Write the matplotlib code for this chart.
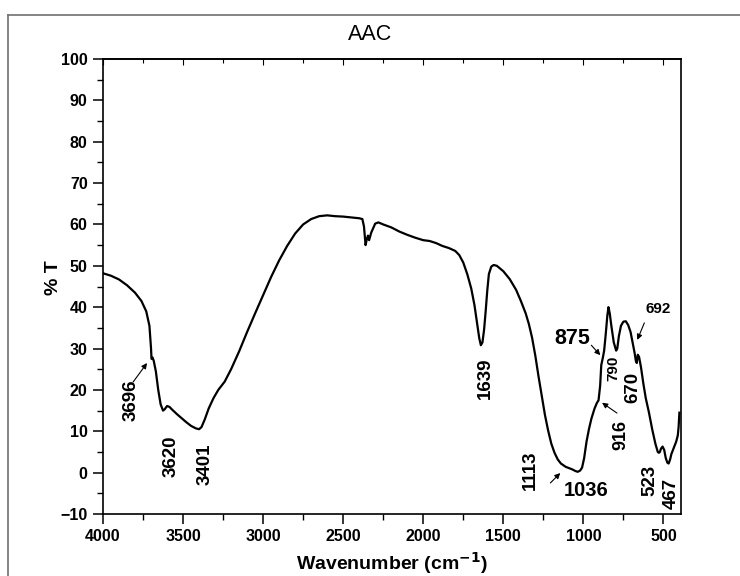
import matplotlib
matplotlib.use("Agg")
import matplotlib.pyplot as plt
from matplotlib.ticker import MultipleLocator
from matplotlib.lines import Line2D

plt.rcParams['font.family'] = ['Liberation Sans', 'DejaVu Sans']

# ---- spectrum data (wavenumber cm-1, %T) ----
wavenumber = [4000, 3950, 3900, 3850, 3800, 3760, 3730, 3710, 3700, 3697, 3690, 3683,
              3670, 3655, 3640, 3625, 3615, 3600, 3585, 3570, 3540, 3510, 3480, 3450,
              3420, 3400, 3385, 3365, 3340, 3310, 3280, 3240, 3200, 3150, 3100, 3050,
              3000, 2950, 2900, 2850, 2800, 2750, 2700, 2650, 2600, 2550, 2500, 2450,
              2400, 2380, 2370, 2360, 2352, 2345, 2338, 2325, 2300, 2280, 2250, 2200,
              2150, 2100, 2050, 2000, 1960, 1920, 1880, 1840, 1800, 1775, 1750, 1725,
              1700, 1680, 1665, 1650, 1640, 1630, 1620, 1610, 1600, 1590, 1575, 1560,
              1540, 1500, 1460, 1420, 1390, 1360, 1340, 1320, 1300, 1280, 1260, 1240, 1220,
              1200, 1180, 1160, 1140, 1110, 1090, 1070, 1050, 1035, 1020, 1008, 995,
              980, 965, 950, 930, 916, 905, 895, 888, 878, 870, 860, 850, 843, 835,
              825, 810, 795, 788, 778, 765, 750, 735, 720, 705, 690, 680, 672, 666,
              660, 652, 640, 625, 610, 590, 570, 550, 535, 528, 522, 515, 505, 495,
              485, 475, 467, 458, 450, 440, 430, 420, 410, 405, 400]
transmittance = [48.2, 47.6, 46.7, 45.3, 43.5, 41.5, 39.0, 35.5, 30.0, 27.5, 27.8, 27.0,
                 24.5, 20.0, 16.5, 15.0, 15.3, 16.1, 15.9, 15.3, 14.2, 13.2, 12.2, 11.3,
                 10.7, 10.5, 11.0, 12.8, 15.5, 18.0, 20.0, 22.0, 25.0, 29.3, 34.0, 38.5,
                 42.9, 47.3, 51.3, 54.8, 57.8, 60.0, 61.3, 62.0, 62.2, 62.0, 61.9, 61.7,
                 61.5, 61.3, 59.5, 55.0, 56.5, 57.3, 56.2, 58.0, 60.2, 60.5, 60.0, 59.3,
                 58.3, 57.5, 56.8, 56.2, 56.0, 55.5, 54.8, 54.3, 53.6, 52.6, 50.8, 48.0,
                 44.5, 40.5, 36.5, 32.5, 30.8, 31.5, 34.5, 39.0, 44.0, 48.0, 49.8, 50.2,
                 50.0, 48.7, 46.8, 44.2, 41.5, 38.5, 35.9, 32.6, 28.3, 23.3, 18.6, 14.0, 10.2,
                 7.0, 4.8, 3.2, 2.2, 1.4, 1.1, 0.8, 0.4, 0.2, 0.5, 1.2, 3.5,
                 7.5, 10.5, 13.0, 15.5, 16.8, 17.5, 21.0, 26.0, 27.8, 29.5, 33.5, 38.0, 40.0, 38.5,
                 35.5, 31.5, 29.5, 30.0, 33.0, 35.5, 36.5, 36.6, 35.7, 34.0, 31.0, 29.0, 27.0, 26.5,
                 28.5, 28.0, 25.5, 21.5, 18.0, 14.5, 10.5, 7.0, 5.0, 4.8, 5.0, 5.8, 6.3, 5.5,
                 3.5, 2.4, 2.2, 3.2, 4.5, 5.5, 6.5, 7.5, 9.0, 11.0, 14.5]

# ---- peak labels: text, label position (wavenumber, %T), rotation, size, arrow tail/head ----
peak_labels = ["3696", "3620", "3401", "1639", "1113", "1036", "875", "790", "670", "692", "916", "523", "467"]
label_x = [3825, 3575, 3360, 1613, 1331, 981, 1069, 812, 688, 531, 763, 584, 453]
label_y = [17.6, 4.0, 2.0, 22.9, 0.5, -4.2, 32.5, 25.3, 20.5, 39.6, 9.1, -1.8, -5.0]
label_rot = [90, 90, 90, 90, 90, 0, 0, 90, 90, 0, 90, 90, 90]
label_size = [13.5, 13.5, 13.5, 13.5, 13.5, 14.5, 15.5, 11, 13.5, 11, 13, 13.5, 13.5]
arrow_from = {"3696": (3812, 21.9), "1113": (1206, -2.5), "875": (950, 30.8),
              "692": (619, 36.2), "916": (790, 14.4)}
arrow_to = {"3696": (3725, 26.5), "1113": (1144, -0.1), "875": (894, 28.4),
            "692": (663, 32.1), "916": (883, 16.9)}

fig = plt.figure(figsize=(7.4, 5.76), dpi=100)
ax = fig.add_axes([103 / 740, 1 - 514 / 576, 578 / 740, 455 / 576])

ax.plot(wavenumber, transmittance, color='black', lw=1.6, solid_joinstyle='round')

ax.set_xlim(4000, 390)
ax.set_ylim(-10, 100)
ax.xaxis.set_major_locator(MultipleLocator(500))
ax.xaxis.set_minor_locator(MultipleLocator(250))
ax.yaxis.set_major_locator(MultipleLocator(10))
ax.yaxis.set_minor_locator(MultipleLocator(5))
ax.tick_params(axis='both', which='major', direction='out', length=7, width=1.1,
               labelsize=11.5, pad=4)
ax.tick_params(axis='both', which='minor', direction='out', length=4, width=1.0)
for lab in ax.get_xticklabels() + ax.get_yticklabels():
    lab.set_fontweight('bold')

sec = ax.secondary_xaxis('top')
sec.xaxis.set_major_locator(MultipleLocator(500))
sec.xaxis.set_minor_locator(MultipleLocator(250))
sec.tick_params(axis='x', which='major', direction='in', length=4, width=0.8, labeltop=False)
sec.tick_params(axis='x', which='minor', direction='in', length=3, width=0.8)
sec.spines['top'].set_linewidth(1.2)

for sp in ax.spines.values():
    sp.set_linewidth(1.2)

ax.set_xlabel('Wavenumber (cm$^{\\mathbf{-1}}$)', fontsize=14, fontweight='bold', labelpad=4)
ax.set_ylabel('% T', fontsize=14, fontweight='bold')
ax.yaxis.set_label_coords(-0.071, 0.52)
fig.text(0.5, 1 - 35 / 576, 'AAC', fontsize=15.5, ha='center', va='center')

for i, txt in enumerate(peak_labels):
    ax.text(label_x[i], label_y[i], txt, rotation=label_rot[i], fontsize=label_size[i],
            fontweight='bold', ha='center', va='center', rotation_mode='anchor')
    if txt in arrow_from:
        ax.annotate('', xy=arrow_to[txt], xytext=arrow_from[txt],
                    arrowprops=dict(arrowstyle='-|>', color='black', lw=0.8,
                                    mutation_scale=8, shrinkA=0, shrinkB=0))

# outer frame (left and top edges)
fx = 7.5 / 740
fy = 1 - 14.5 / 576
fig.add_artist(Line2D([fx, fx], [0, fy], transform=fig.transFigure, color='#707070', lw=1.2))
fig.add_artist(Line2D([fx, 1], [fy, fy], transform=fig.transFigure, color='#707070', lw=1.2))

fig.savefig('out.png', dpi=100)
